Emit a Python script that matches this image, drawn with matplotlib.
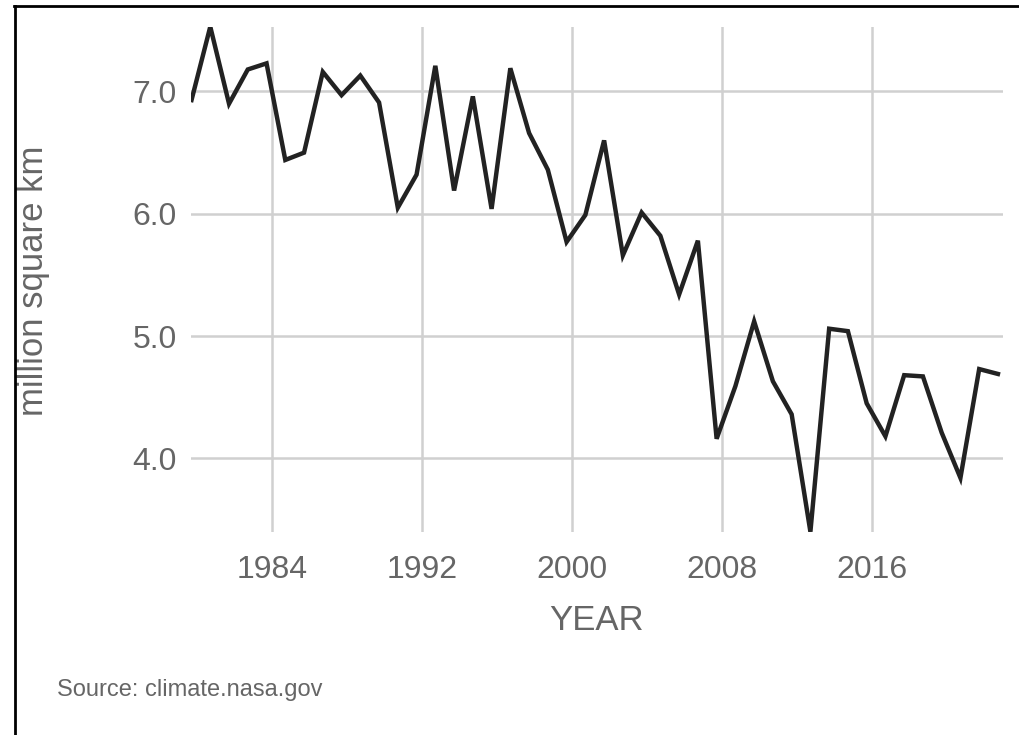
import matplotlib
matplotlib.use('Agg')
import matplotlib.pyplot as plt
from matplotlib.lines import Line2D
import numpy as np

plt.rcParams['font.family'] = ['Liberation Sans', 'DejaVu Sans']

# September minimum of Arctic sea ice extent (million square km)
years = list(range(1979, 2023))
extent = [6.93, 7.53, 6.90, 7.18, 7.23, 6.44, 6.50, 7.16, 6.97, 7.13,
          6.91, 6.05, 6.32, 7.21, 6.19, 6.96, 6.04, 7.19, 6.66, 6.36,
          5.77, 5.99, 6.60, 5.66, 6.01, 5.82, 5.34, 5.78, 4.16, 4.59,
          5.12, 4.63, 4.36, 3.40, 5.06, 5.04, 4.45, 4.18, 4.68, 4.67,
          4.21, 3.84, 4.73, 4.69]
xticks = [1984, 1992, 2000, 2008, 2016]
yticks = [4.0, 5.0, 6.0, 7.0]

# minimum falls in September, so place each point ~0.7 into its year
x = np.array(years) + 0.7

textColor = '#666666'

fig = plt.figure(figsize=(10.19, 7.35), dpi=100)
ax = fig.add_axes([0.1874, 0.2766, 0.7969, 0.6871])

ax.plot(x, extent, color='#222222', linewidth=3.2, solid_joinstyle='miter', zorder=3)

ax.set_xlim(1979.67, 2022.97)
ax.set_ylim(min(extent), max(extent))
ax.set_xticks(xticks)
ax.set_xticklabels([str(t) for t in xticks])
ax.set_yticks(yticks)
ax.set_yticklabels([f'{t:.1f}' for t in yticks])

ax.grid(True, color='#d0d0d0', linewidth=1.8)
ax.set_axisbelow(True)
for s in ax.spines.values():
    s.set_visible(False)
ax.tick_params(axis='both', length=0, labelsize=23, labelcolor=textColor)
ax.tick_params(axis='x', pad=17)
ax.tick_params(axis='y', pad=10)

ax.set_xlabel('YEAR', fontsize=25, color=textColor)
ax.xaxis.set_label_coords(0.5, -0.143)
ax.set_ylabel('million square km', fontsize=25, color=textColor)
ax.yaxis.set_label_coords(-0.173, 0.497)

fig.text(57 / 1019, 1 - 690 / 735, 'Source: climate.nasa.gov', fontsize=17,
         color=textColor, va='center', ha='left')

# black frame on top and left
fig.add_artist(Line2D([14 / 1019, 1], [1 - 5.5 / 735, 1 - 5.5 / 735], color='black', linewidth=2))
fig.add_artist(Line2D([14.5 / 1019, 14.5 / 1019], [0, 1 - 5.5 / 735], color='black', linewidth=2))

fig.savefig('out.png', dpi=100)
